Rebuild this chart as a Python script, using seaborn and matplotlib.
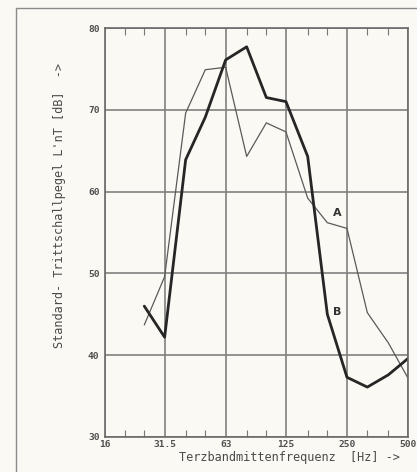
import matplotlib
matplotlib.use("Agg")
import matplotlib.pyplot as plt
import seaborn as sns
import pandas as pd
from matplotlib.patches import Rectangle
from matplotlib.ticker import FixedLocator, NullFormatter

# --- data ---
freqs = [25, 31.5, 40, 50, 63, 80, 100, 125, 160, 200, 250, 315, 400, 500]
curve_A = [43.7, 49.6, 69.6, 74.9, 75.2, 64.3, 68.4, 67.3, 59.2, 56.2, 55.5, 45.2, 41.5, 37.2]
curve_B = [46.0, 42.2, 63.9, 69.1, 76.1, 77.7, 71.5, 71.0, 64.3, 45.0, 37.3, 36.1, 37.6, 39.6]
major_ticks = [16, 31.5, 63, 125, 250, 500]
major_labels = ["16", "31.5", "63", "125", "250", "500"]
minor_ticks = [20, 25, 40, 50, 80, 100, 160, 200, 315, 400]
y_ticks = [30, 40, 50, 60, 70, 80]

df = pd.DataFrame({"f": freqs * 2,
                   "L": curve_A + curve_B,
                   "curve": ["A"] * len(freqs) + ["B"] * len(freqs)})

sns.set_theme(style="white")
plt.rcParams["font.family"] = ["DejaVu Sans Mono"]
bg = "#fbf9f4"
fig = plt.figure(figsize=(4.17, 4.72), dpi=100, facecolor=bg)
ax = fig.add_axes([105 / 417, 35 / 472, 303 / 417, 409 / 472])
ax.set_facecolor(bg)

# outer frame
fig.patches.append(Rectangle((16 / 417, -0.05), 1.2, (472 - 8) / 472 + 0.05,
                             transform=fig.transFigure, fill=False,
                             edgecolor="#8a8a8a", linewidth=1.0))

sns.lineplot(data=df, x="f", y="L", hue="curve", size="curve",
             sizes={"A": 0.9, "B": 2.0},
             palette={"A": "#5a5a5a", "B": "#262626"},
             legend=False, ax=ax, sort=False)

ax.set_xscale("log")
ax.set_xlim(16, 500)
ax.set_ylim(30, 80)
ax.xaxis.set_major_locator(FixedLocator(major_ticks))
ax.set_xticklabels(major_labels)
ax.xaxis.set_minor_locator(FixedLocator(minor_ticks))
ax.xaxis.set_minor_formatter(NullFormatter())
ax.set_yticks(y_ticks)
ax.set_yticklabels([str(v) for v in y_ticks])

ax.grid(True, which="major", color="#808080", linewidth=1.2)
ax.set_axisbelow(True)
for s in ax.spines.values():
    s.set_color("#6a6a6a")
    s.set_linewidth(1.2)

ax.tick_params(axis="x", which="both", direction="in", top=True, bottom=True,
               length=5, width=0.8, color="#777777", labelsize=6.8,
               labelcolor="#505050", pad=2)
ax.tick_params(axis="x", which="major", length=0)
ax.tick_params(axis="y", which="both", length=0, labelsize=6.8,
               labelcolor="#505050", pad=4)
for lab in ax.get_xticklabels() + ax.get_yticklabels():
    lab.set_fontweight("bold")

ax.set_xlabel("Terzbandmittenfrequenz  [Hz] ->", fontsize=8.6,
              color="#4a4a4a")
ax.xaxis.set_label_coords(0.61, -0.035)
ax.set_ylabel("Standard- Trittschallpegel L'nT [dB]  ->", fontsize=8.6,
              color="#4a4a4a")
ax.yaxis.set_label_coords(-0.13, 0.565)

ax.text(223, 57.4, "A", fontsize=8, fontweight="bold", color="#333333",
        ha="center", va="center", family="DejaVu Sans")
ax.text(223, 45.3, "B", fontsize=8, fontweight="bold", color="#333333",
        ha="center", va="center", family="DejaVu Sans")

fig.savefig("out.png", dpi=100, facecolor=bg)
